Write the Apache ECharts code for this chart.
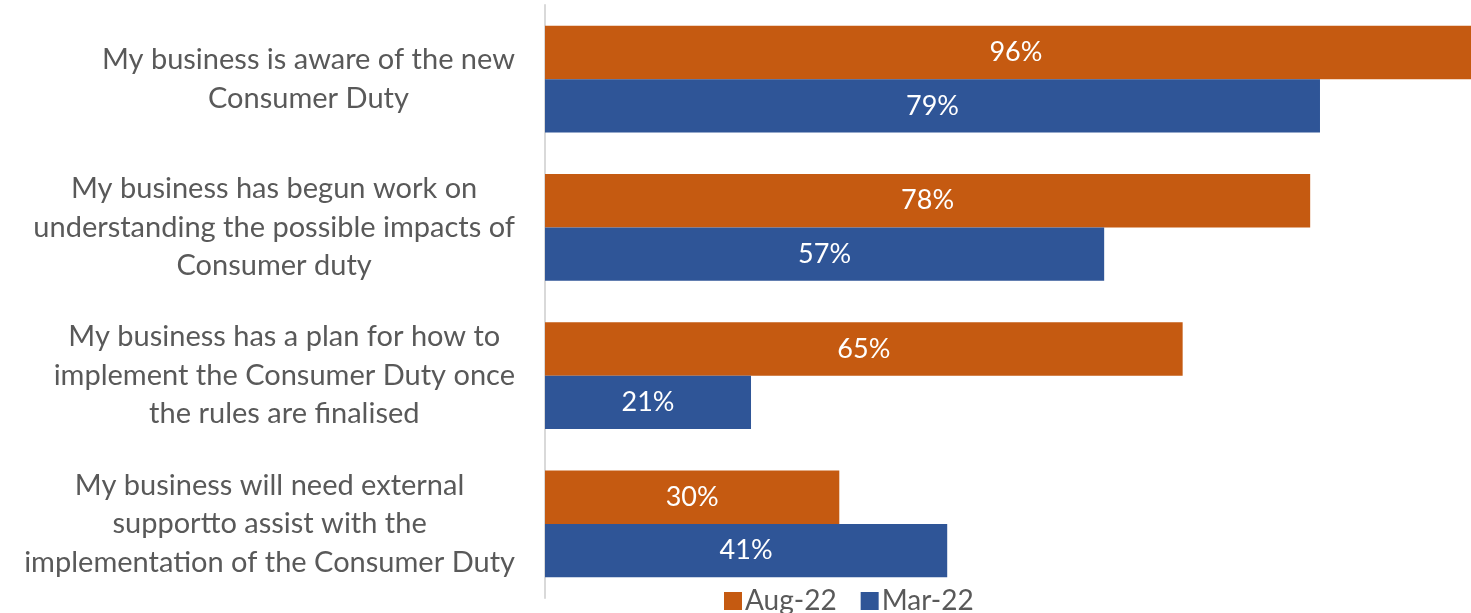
<!DOCTYPE html>
<html>
<head>
<meta charset="utf-8">
<script src="https://cdn.jsdelivr.net/npm/echarts@6/dist/echarts.min.js"></script>
<style>html,body{margin:0;padding:0;background:#fff}#c{width:1471px;height:613px}</style>
</head>
<body>
<div id="c"></div>
<script>
const categories = [
  "My business is aware of the new\nConsumer Duty",
  "My business has begun work on\nunderstanding the possible impacts of\nConsumer duty",
  "My business has a plan for how to\nimplement the Consumer Duty once\nthe rules are finalised",
  "My business will need external\nsupportto assist with the\nimplementation of the Consumer Duty"
];
const aug22 = [96, 78, 65, 30];
const mar22 = [79, 57, 21, 41];
const seriesNames = ["Aug-22", "Mar-22"];

const chart = echarts.init(document.getElementById('c'));
const font = 'Lato';
chart.setOption({
  animation: false,
  grid: { left: 545, top: 5, bottom: 15, width: 981, outerBoundsMode: 'none', containLabel: false },
  legend: {
    data: seriesNames,
    top: 582, left: 719,
    itemWidth: 18, itemHeight: 18, itemGap: 24,
    icon: 'rect',
    textStyle: { fontFamily: font, fontSize: 28, color: '#595959', padding: [0,0,0,-2] }
  },
  xAxis: { type: 'value', min: 0, max: 100, show: false },
  yAxis: {
    type: 'category', inverse: true, data: categories,
    axisTick: { show: false },
    axisLine: { lineStyle: { color: '#d9d9d9', width: 2 } },
    axisLabel: {
      margin: 30,
      formatter: v => v.split('\n').map(l => '{c|' + l + '}').join('\n'),
      rich: { c: { align: 'center', fontFamily: font, fontSize: 29, lineHeight: 38.5, color: '#595959' } }
    }
  },
  series: [
    { name: seriesNames[0], type: 'bar', data: aug22, barGap: '0%', barCategoryGap: '28%',
      itemStyle: { color: '#C55A11' },
      label: { show: true, position: 'inside', formatter: '{c}%', color: '#fff', fontFamily: font, fontSize: 27 } },
    { name: seriesNames[1], type: 'bar', data: mar22, barGap: '0%', barCategoryGap: '28%',
      itemStyle: { color: '#2F5597' },
      label: { show: true, position: 'inside', formatter: '{c}%', color: '#fff', fontFamily: font, fontSize: 27 } }
  ]
});
</script>
</body>
</html>
